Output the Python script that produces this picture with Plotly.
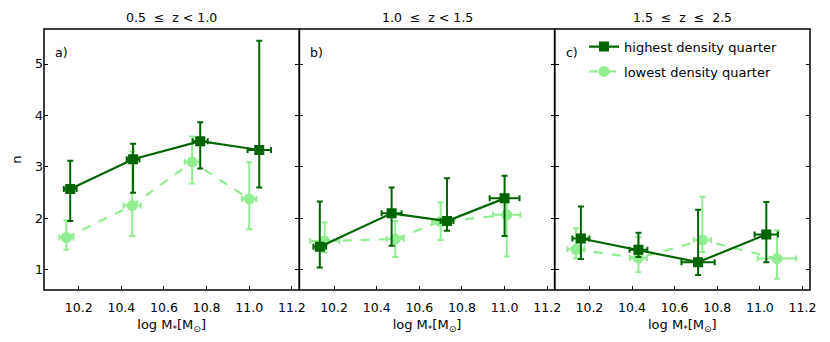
import plotly.graph_objects as go
from plotly.subplots import make_subplots

DARK = "#006400"
LIGHT = "#90ee90"

titles = ["0.5  \u2264  z < 1.0", "1.0  \u2264  z < 1.5", "1.5  \u2264  z  \u2264  2.5"]
panel_labels = ["a)", "b)", "c)"]

# highest density quarter
hi_mass = [[10.16, 10.455, 10.77, 11.047], [10.133, 10.47, 10.73, 11.0], [10.16, 10.43, 10.71, 11.03]]
hi_mass_err = [[0.03, 0.03, 0.035, 0.055], [0.03, 0.047, 0.03, 0.07], [0.04, 0.042, 0.078, 0.055]]
hi_n = [[2.57, 3.15, 3.50, 3.33], [1.45, 2.10, 1.95, 2.39], [1.61, 1.39, 1.15, 1.69]]
hi_n_plus = [[0.55, 0.30, 0.37, 2.12], [0.88, 0.50, 0.83, 0.44], [0.62, 0.33, 1.02, 0.63]]
hi_n_minus = [[0.62, 0.65, 0.53, 0.73], [0.405, 0.63, 0.19, 0.73], [0.40, 0.14, 0.25, 0.54]]

# lowest density quarter
lo_mass = [[10.142, 10.451, 10.732, 11.0], [10.156, 10.487, 10.70, 11.01], [10.137, 10.43, 10.73, 11.08]]
lo_mass_err = [[0.033, 0.04, 0.035, 0.033], [0.068, 0.04, 0.04, 0.064], [0.04, 0.04, 0.04, 0.09]]
lo_n = [[1.63, 2.25, 3.10, 2.38], [1.56, 1.60, 1.94, 2.07], [1.40, 1.23, 1.58, 1.22]]
lo_n_plus = [[0.33, 1.05, 0.49, 0.71], [0.36, 0.35, 0.37, 0.38], [0.41, 0.41, 0.84, 0.55]]
lo_n_minus = [[0.24, 0.59, 0.42, 0.59], [0.22, 0.35, 0.36, 0.81], [0.18, 0.275, 0.23, 0.39]]

x_ticks = [10.2, 10.4, 10.6, 10.8, 11.0, 11.2]
y_ticks = [1, 2, 3, 4, 5]

FONT = "DejaVu Sans"

fig = make_subplots(rows=1, cols=3, horizontal_spacing=0)


def err(arr, minus=None, color=DARK):
    d = dict(type="data", array=arr, color=color, thickness=2, width=3)
    if minus is not None:
        d["symmetric"] = False
        d["arrayminus"] = minus
    return d


for i in range(3):
    col = i + 1
    ax = "" if col == 1 else str(col)
    fig.add_trace(
        go.Scatter(
            x=lo_mass[i], y=lo_n[i], mode="lines+markers",
            name="lowest density quarter", legendgroup="lo", legendrank=2,
            showlegend=(i == 0),
            line=dict(color=LIGHT, width=2.2, dash="dash"),
            marker=dict(symbol="circle", size=11, color=LIGHT),
            error_y=err(lo_n_plus[i], lo_n_minus[i], LIGHT),
            error_x=err(lo_mass_err[i], color=LIGHT),
        ),
        row=1, col=col,
    )
    fig.add_trace(
        go.Scatter(
            x=hi_mass[i], y=hi_n[i], mode="lines+markers",
            name="highest density quarter", legendgroup="hi", legendrank=1,
            showlegend=(i == 0),
            line=dict(color=DARK, width=2.2),
            marker=dict(symbol="square", size=10, color=DARK),
            error_y=err(hi_n_plus[i], hi_n_minus[i], DARK),
            error_x=err(hi_mass_err[i], color=DARK),
        ),
        row=1, col=col,
    )
    fig.add_annotation(
        text=titles[i], x=0.5, y=1, xref=f"x{ax} domain",
        yref="paper", yanchor="bottom", yshift=2, showarrow=False,
        font=dict(size=12.5),
    )
    fig.add_annotation(
        text=panel_labels[i], x=0.035, y=0.91, xref=f"x{ax} domain",
        yref="paper", xanchor="left", yanchor="middle", showarrow=False,
        font=dict(size=12.5),
    )
    # panel frame, drawn once so shared edges stay thin
    fig.add_shape(
        type="rect", xref=f"x{ax} domain", yref=f"y{ax} domain",
        x0=0, x1=1, y0=0, y1=1, line=dict(color="black", width=1.5),
    )

fig.update_xaxes(
    range=[10.037, 11.235], tickvals=x_ticks, ticktext=[f"{v:.1f}" for v in x_ticks],
    ticks="inside", ticklen=4, tickwidth=1, tickcolor="black",
    showline=False, showgrid=False, zeroline=False, automargin=False,
    tickfont=dict(size=12.5), ticklabelstandoff=8,
    title=dict(text="log M<sub>*</sub>[M<sub>\u2299</sub>]", standoff=6, font=dict(size=13)),
)
fig.update_yaxes(
    range=[0.61, 5.68], tickvals=y_ticks,
    ticks="inside", ticklen=4, tickwidth=1, tickcolor="black",
    showline=False, mirror="ticks",
    showgrid=False, zeroline=False, automargin=False,
    tickfont=dict(size=12.5),
)
fig.update_yaxes(title=dict(text="n", standoff=10, font=dict(size=13)), row=1, col=1)
fig.update_yaxes(showticklabels=False, row=1, col=2)
fig.update_yaxes(showticklabels=False, row=1, col=3)

fig.update_layout(
    width=830, height=342,
    margin=dict(l=44, r=20, t=29, b=52),
    paper_bgcolor="white", plot_bgcolor="white",
    font=dict(family=FONT, size=12, color="black"),
    legend=dict(
        x=0.705, y=0.99, xanchor="left", yanchor="top",
        bgcolor="rgba(0,0,0,0)", font=dict(size=13),
        tracegroupgap=5, itemwidth=30,
    ),
)

fig.write_html(
    "out.html",
    config={"displayModeBar": False},
    post_script="document.body.style.margin='0';",
)
